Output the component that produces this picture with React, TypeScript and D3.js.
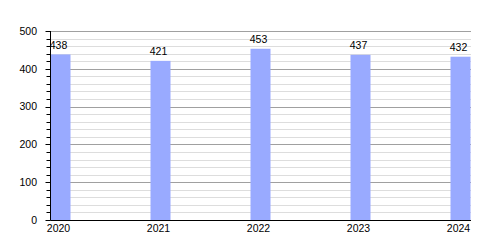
import React from "react";
import * as d3 from "d3";

const years = ["2020", "2021", "2022", "2023", "2024"];
const values = [438, 421, 453, 437, 432];
const majorTicks = [0, 100, 200, 300, 400, 500];
const minorTicks = d3.range(0, 501, 20);

export default function App() {
  const W = 500, H = 250;
  const left = 50.5, right = 471, top = 31, bottom = 220;
  const y = d3.scaleLinear().domain([0, 500]).range([bottom, top]);
  const x = d3.scaleBand<string>().domain(years).range([50.5, 550.5]).paddingInner(0).paddingOuter(0);
  const barW = 20;
  const font = "'Liberation Sans', Arial, sans-serif";
  return (
    <svg width={W} height={H} style={{ position: "absolute", left: 0, top: 0 }} fontFamily={font}>
      <rect width={W} height={H} fill="#fff" />
      {minorTicks.filter(t => t % 100 !== 0).map(t => (
        <line key={"m" + t} x1={left} x2={right} y1={Math.round(y(t)) + 0.5} y2={Math.round(y(t)) + 0.5} stroke="#dddddd" strokeWidth={1} />
      ))}
      {majorTicks.filter(t => t !== 0).map(t => (
        <line key={"M" + t} x1={left} x2={right} y1={Math.round(y(t)) + 0.5} y2={Math.round(y(t)) + 0.5} stroke="#a0a0a0" strokeWidth={1} />
      ))}
      {years.map((yr, i) => (
        <rect key={yr} x={x(yr)!} y={y(values[i])} width={barW} height={bottom - y(values[i])} fill="#99aaff" />
      ))}
      {years.map((yr, i) => (
        <text key={"v" + yr} x={x(yr)! + barW / 2 - 2} y={y(values[i]) - 5.5} textAnchor="middle" fontSize={10.5} fill="#000">{values[i]}</text>
      ))}
      {minorTicks.map(t => (
        <line key={"t" + t} x1={t % 100 === 0 ? 45.5 : 46.5} x2={left} y1={Math.round(y(t)) + 0.5} y2={Math.round(y(t)) + 0.5} stroke="#000" strokeWidth={1} />
      ))}
      {majorTicks.map(t => (
        <text key={"l" + t} x={37} y={y(t) + 3.7} textAnchor="end" fontSize={10.5} fill="#000">{t}</text>
      ))}
      <line x1={left} x2={left} y1={top} y2={bottom + 0.5} stroke="#000" strokeWidth={1} />
      <line x1={left} x2={right} y1={bottom + 0.5} y2={bottom + 0.5} stroke="#000" strokeWidth={1.2} />
      {years.map(yr => (
        <text key={"x" + yr} x={x(yr)! + barW / 2 - 2} y={232} textAnchor="middle" fontSize={10.5} fill="#000">{yr}</text>
      ))}
    </svg>
  );
}
